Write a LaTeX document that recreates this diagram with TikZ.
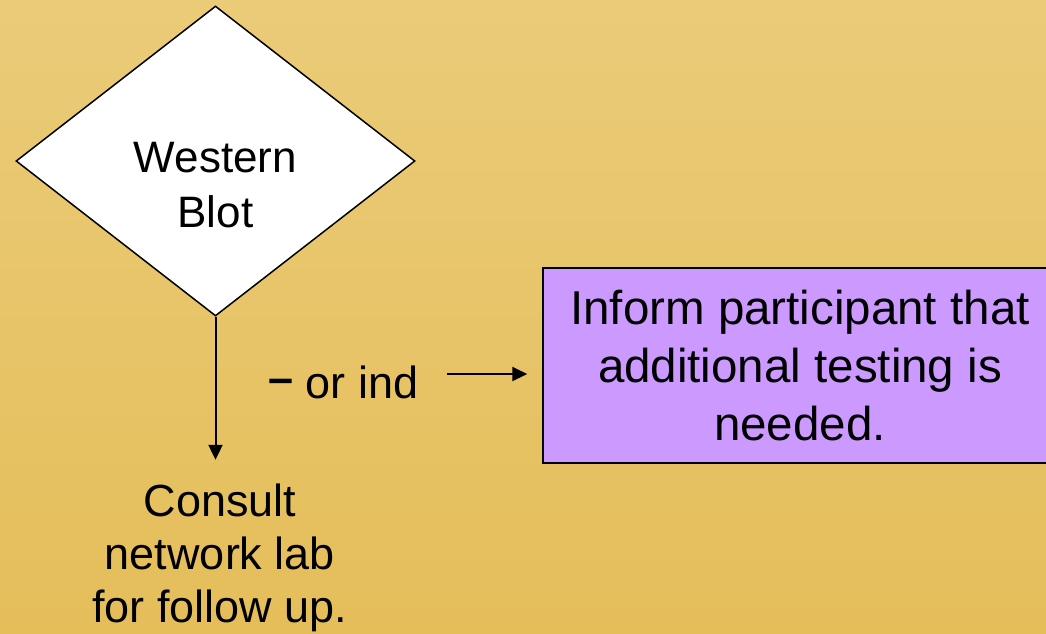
\documentclass[tikz,border=0pt]{standalone}
\usepackage{fontspec}
\setmainfont{Liberation Sans}
\usetikzlibrary{shapes.geometric,arrows.meta}
\definecolor{bg}{RGB}{229,190,90}
\definecolor{bglight}{RGB}{234,203,120}
\definecolor{lilac}{RGB}{204,153,255}
\begin{document}
\begin{tikzpicture}[x=1pt,y=-1pt,
  txt/.style={font=\fontsize{44}{55}\selectfont, align=center, inner sep=0pt},
  conn/.style={line width=2pt, -{Triangle[length=15pt,width=14pt]}}]
\useasboundingbox (0,0) rectangle (1046,633);
\shade[top color=bglight, bottom color=bg] (0,0) rectangle (1046,633);
\node[diamond, draw, fill=white, line width=1.5pt, minimum width=399pt, minimum height=310pt, inner sep=0pt] (wb) at (215.5,161) {};
\node[txt] (wbt) at (215.5,185) {Western\\Blot};
\node[txt, font=\fontsize{45}{53}\selectfont] (consult) at (220,558) {Consult\\network lab\\for follow up.};
\draw[conn, shorten >=24pt] (wb.south) -- (wb.south |- consult.north);
\node[txt, font=\fontsize{47.5}{58}\selectfont, draw, fill=lilac, line width=1.5pt, minimum width=514pt, minimum height=195pt] (box) at (800,365.5) {Inform participant that\\additional testing is\\needed.};
\node[txt, font=\fontsize{45}{55}\selectfont, anchor=base west] (lbl) at (268,398) {\raisebox{5pt}{\textbf{–}} or ind};
\coordinate (a1) at (447,374);
\draw[conn, shorten >=15pt] (a1) -- (a1 -| box.west);
\end{tikzpicture}
\end{document}
